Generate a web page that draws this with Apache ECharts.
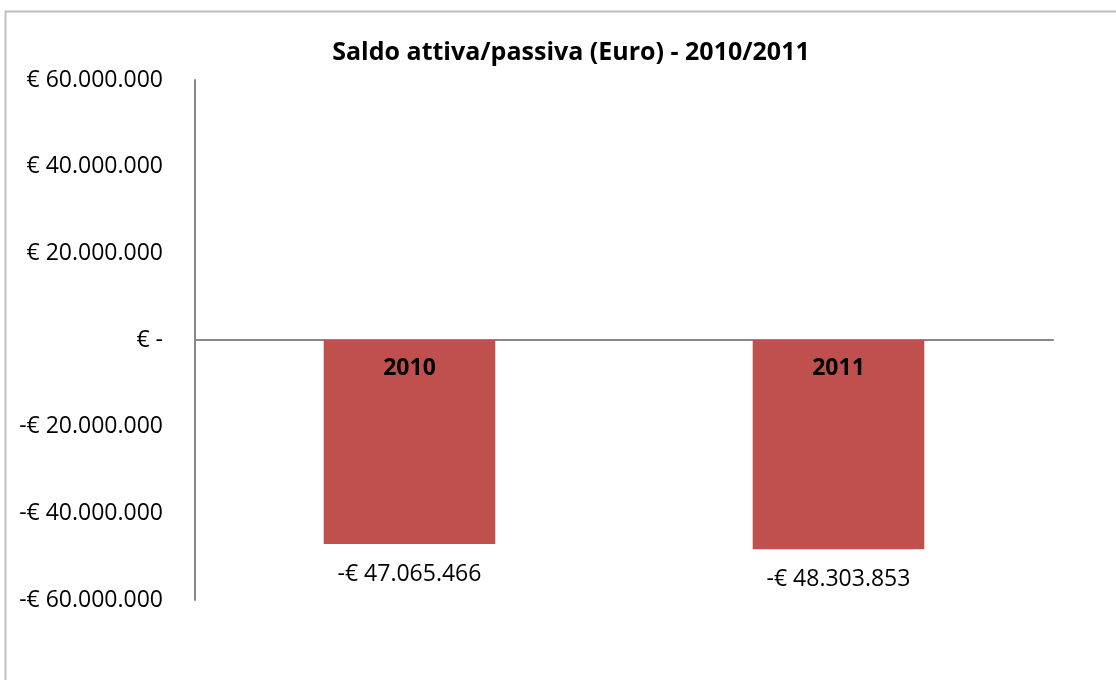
<!DOCTYPE html>
<html>
<head>
<meta charset="utf-8">
<script src="https://cdn.jsdelivr.net/npm/echarts@6/dist/echarts.min.js"></script>
<style>
  html, body { margin: 0; padding: 0; background: #fff; }
  #chart { width: 1116px; height: 680px; }
</style>
</head>
<body>
<div id="chart"></div>
<script>
const years = ['2010', '2011']
const saldo = [-47065466, -48303853]
const yMin = -60000000
const yMax = 60000000
const yStep = 20000000

const fontFamily = '"Open Sans", "Noto Sans", sans-serif'

// italian style thousands: 47.065.466
function euro(v) {
  if (v === 0) return '€ -'
  const s = Math.abs(Math.round(v)).toString().replace(/\B(?=(\d{3})+(?!\d))/g, '.')
  return (v < 0 ? '-€ ' : '€ ') + s
}

const chart = echarts.init(document.getElementById('chart'))
chart.setOption({
  animation: false,
  backgroundColor: '#fff',
  textStyle: { fontFamily },
  title: {
    text: 'Saldo attiva/passiva (Euro) - 2010/2011',
    left: 566,
    top: 35,
    textAlign: 'center',
    textStyle: { fontFamily, fontSize: 25, fontWeight: 'bold', color: '#000' }
  },
  graphic: [{
    type: 'rect',
    shape: { x: 5.5, y: 11.5, width: 1200, height: 800 },
    style: { fill: 'none', stroke: '#bfbfbf', lineWidth: 2 },
    silent: true
  }],
  grid: { left: 195, right: 63, top: 80, bottom: 80, containLabel: false },
  xAxis: {
    type: 'category',
    data: years,
    axisLine: { onZero: true, lineStyle: { color: '#878787', width: 2 } },
    axisTick: { show: false },
    axisLabel: { show: false }
  },
  yAxis: {
    type: 'value',
    min: yMin,
    max: yMax,
    interval: yStep,
    axisLine: { show: true, lineStyle: { color: '#878787', width: 2 } },
    axisTick: { show: false },
    splitLine: { show: false },
    axisLabel: {
      formatter: euro,
      fontFamily,
      fontSize: 23,
      color: '#000',
      margin: 32
    }
  },
  series: [{
    type: 'bar',
    data: saldo,
    barWidth: '40%',
    itemStyle: { color: '#c0504d' },
    label: {
      show: true,
      position: 'bottom',
      distance: 19,
      formatter: (p) => euro(p.value),
      fontFamily,
      fontSize: 23,
      color: '#000'
    }
  }, {
    // same bars again, only to carry the year inside the top of each bar
    type: 'bar',
    data: saldo,
    barWidth: '40%',
    barGap: '-100%',
    itemStyle: { color: 'transparent' },
    label: {
      show: true,
      position: 'insideTop',
      distance: 17,
      formatter: (p) => p.name,
      fontFamily,
      fontSize: 23,
      fontWeight: 'bold',
      color: '#000'
    },
    z: 3
  }]
})
</script>
</body>
</html>
